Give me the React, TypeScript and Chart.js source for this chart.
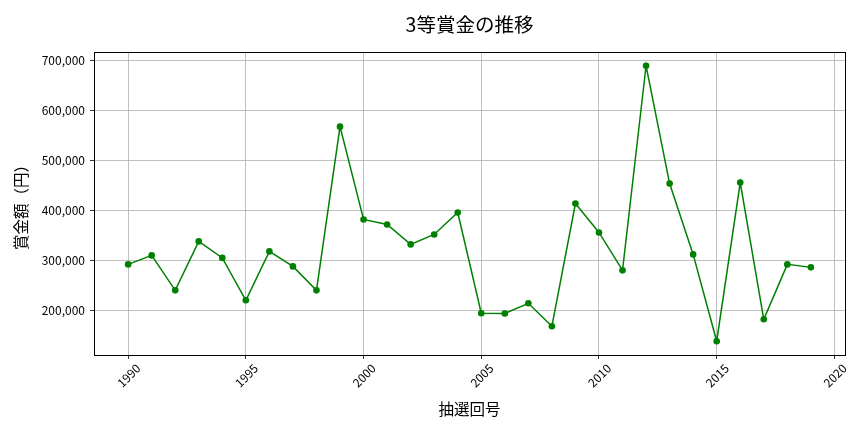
import { useEffect, useRef } from "react";
import { Chart, registerables } from "chart.js";

Chart.register(...registerables);

const years = [
  1990, 1991, 1992, 1993, 1994, 1995, 1996, 1997, 1998, 1999,
  2000, 2001, 2002, 2003, 2004, 2005, 2006, 2007, 2008, 2009,
  2010, 2011, 2012, 2013, 2014, 2015, 2016, 2017, 2018, 2019,
];
const prizes = [
  292000, 310000, 240000, 338000, 305000, 220000, 318000, 288000, 240000, 568000,
  382000, 372000, 332000, 352000, 396000, 194000, 193500, 214000, 168000, 414000,
  356000, 280000, 690000, 454000, 312000, 138000, 456000, 182000, 292000, 286000,
];
const xTicks = [1990, 1995, 2000, 2005, 2010, 2015, 2020];
const yTicks = [200000, 300000, 400000, 500000, 600000, 700000];

const FONT = "'Noto Sans CJK JP', 'Noto Sans', sans-serif";

// matplotlib-style frame + title over the plot area
const framePlugin = {
  id: "frame",
  afterDraw(chart: Chart) {
    const { ctx, chartArea } = chart;
    ctx.save();
    ctx.strokeStyle = "#000000";
    ctx.lineWidth = 1;
    ctx.strokeRect(
      Math.round(chartArea.left) + 0.5,
      Math.round(chartArea.top) + 0.5,
      Math.round(chartArea.right - chartArea.left),
      Math.round(chartArea.bottom - chartArea.top)
    );
    ctx.fillStyle = "#000000";
    ctx.font = `19.5px ${FONT}`;
    ctx.textAlign = "center";
    ctx.textBaseline = "middle";
    ctx.fillText("3等賞金の推移", (chartArea.left + chartArea.right) / 2, 25);
    ctx.restore();
  },
};

export default function App() {
  const chartRef = useRef<HTMLCanvasElement>(null);

  useEffect(() => {
    if (!chartRef.current) return;
    const chart = new Chart(chartRef.current, {
      type: "line",
      data: {
        datasets: [
          {
            data: years.map((y, i) => ({ x: y, y: prizes[i] })),
            borderColor: "#008000",
            backgroundColor: "#008000",
            borderWidth: 1.5,
            pointRadius: 3.3,
            pointHoverRadius: 3.3,
            pointBorderWidth: 0,
            tension: 0,
          },
        ],
      },
      options: {
        animation: false,
        responsive: false,
        devicePixelRatio: 1,
        layout: { padding: { top: 52, right: 19, left: 0, bottom: 0 } },
        plugins: {
          legend: { display: false },
          tooltip: { enabled: false },
          title: { display: false },
        },
        scales: {
          x: {
            type: "linear",
            min: 1988.55,
            max: 2020.45,
            afterBuildTicks: (scale) => {
              scale.ticks = xTicks.map((v) => ({ value: v }));
            },
            afterFit: (scale) => {
              scale.height = 77;
            },
            ticks: {
              color: "#000000",
              font: { family: FONT, size: 12 },
              minRotation: 45,
              maxRotation: 45,
              labelOffset: 10,
              padding: 2,
              callback: (v) => String(v),
            },
            grid: {
              color: "#b0b0b0",
              lineWidth: 0.8,
              tickColor: "#000000",
              tickLength: 4,
            },
            border: { color: "#000000", width: 1 },
            title: {
              display: true,
              text: "抽選回号",
              color: "#000000",
              font: { family: FONT, size: 15.5 },
              padding: { top: 0, bottom: 14 },
            },
          },
          y: {
            type: "linear",
            min: 110400,
            max: 717600,
            afterBuildTicks: (scale) => {
              scale.ticks = yTicks.map((v) => ({ value: v }));
            },
            afterFit: (scale) => {
              scale.width = 94;
            },
            ticks: {
              color: "#000000",
              font: { family: FONT, size: 12 },
              padding: 5,
              callback: (v) => Number(v).toLocaleString("en-US"),
            },
            grid: {
              color: "#b0b0b0",
              lineWidth: 0.8,
              tickColor: "#000000",
              tickLength: 4,
            },
            border: { color: "#000000", width: 1 },
            title: {
              display: true,
              text: "賞金額（円）",
              color: "#000000",
              font: { family: FONT, size: 15.5 },
              padding: { top: 12, bottom: 0 },
            },
          },
        },
      },
      plugins: [framePlugin],
    });
    return () => chart.destroy();
  }, []);

  return (
    <div style={{ position: "fixed", left: 0, top: 0, width: 864, height: 432, background: "#ffffff" }}>
      <canvas ref={chartRef} width={864} height={432}></canvas>
    </div>
  );
}
